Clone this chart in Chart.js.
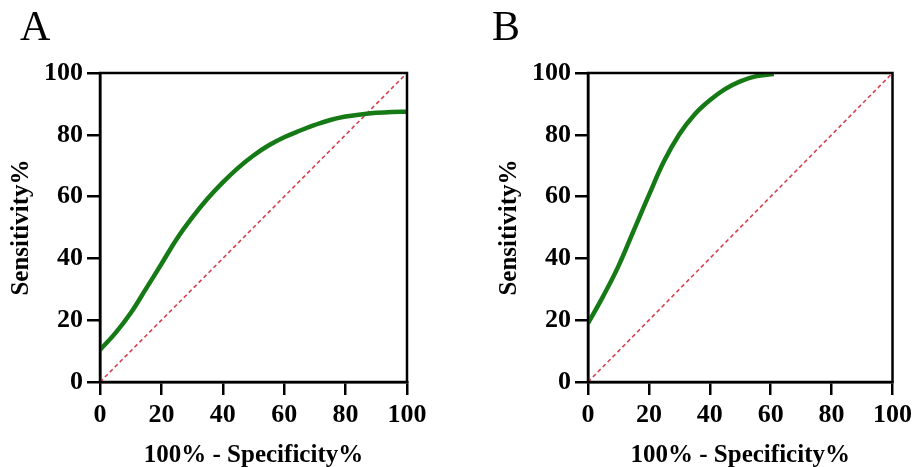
<!DOCTYPE html>
<html lang="en">
<head>
    <meta charset="UTF-8">
    <title>ROC curves</title>
    <script src="https://cdn.jsdelivr.net/npm/chart.js"></script>
    <style>
        body { margin: 0; background: #fff; font-family: "Liberation Serif", "Times New Roman", serif; }
        #wrap { position: relative; width: 917px; height: 467px; overflow: hidden; }
        .panel { position: absolute; top: 0; height: 467px; }
        .tag { position: absolute; top: 2px; font-size: 42px; color: #000; }
    </style>
</head>
<body>
<div id="wrap">
    <div class="panel" style="left:0;width:458px;"><canvas id="chartA"></canvas></div>
    <div class="panel" style="left:458px;width:459px;"><canvas id="chartB"></canvas></div>
    <div class="tag" style="left:20px;">A</div>
    <div class="tag" style="left:492px;">B</div>
</div>

<script>
    // ROC curve A
    const fprA = [0, 5, 10, 15, 20, 25, 30, 35, 40, 45, 50, 55, 60, 65, 70, 75, 80, 85, 90, 95, 100];
    const sensA = [10.4, 15.8, 22.3, 30.2, 38.2, 46.3, 53.2, 59.3, 64.6, 69.3, 73.3, 76.6, 79.2, 81.3, 83.2, 84.8, 85.9, 86.6, 87.1, 87.4, 87.5];
    // ROC curve B
    const fprB = [0, 5, 10, 15, 20, 25, 30, 35, 40, 45, 50, 55, 61];
    const sensB = [19, 27.8, 37.5, 49, 60.5, 71.5, 80.2, 86.6, 91.2, 94.8, 97.3, 98.9, 99.7];
    // reference line
    const refLine = [0, 100];

    const axisTicks = [0, 20, 40, 60, 80, 100];
    const serif = '"Liberation Serif", "Times New Roman", serif';

    const framePlugin = {
        id: 'frame',
        afterDatasetsDraw(chart) {
            const a = chart.chartArea;
            const c = chart.ctx;
            c.save();
            c.strokeStyle = '#000';
            c.lineWidth = 2.5;
            c.strokeRect(a.left, a.top, a.right - a.left, a.bottom - a.top);
            c.restore();
        }
    };

    function makeChart(id, xs, ys, yAxisWidth, yTitlePad, rightPad) {
        const ctx = document.getElementById(id).getContext('2d');
        return new Chart(ctx, {
            type: 'line',
            data: {
                datasets: [{
                    data: xs.map((x, i) => ({ x: x, y: ys[i] })),
                    borderColor: '#157a15',
                    borderWidth: 4.5,
                    pointRadius: 0,
                    tension: 0.4,
                    fill: false
                }, {
                    data: refLine.map(v => ({ x: v, y: v })),
                    borderColor: '#d6404e',
                    borderWidth: 1.6,
                    borderDash: [4, 3],
                    pointRadius: 0,
                    fill: false
                }]
            },
            options: {
                responsive: true,
                maintainAspectRatio: false,
                animation: false,
                layout: { padding: { top: 73, right: rightPad, bottom: 0, left: 0 } },
                plugins: { legend: { display: false }, tooltip: { enabled: false } },
                scales: {
                    x: {
                        type: 'linear',
                        min: 0, max: 100,
                        afterFit(s) { s.height = 85; },
                        afterBuildTicks(s) { s.ticks = axisTicks.map(v => ({ value: v })); },
                        grid: { drawOnChartArea: false, drawTicks: true, tickLength: 13, color: '#000', lineWidth: 2.5 },
                        border: { display: true, color: '#000', width: 2.5 },
                        ticks: { color: '#000', padding: 5, maxRotation: 0, font: { family: serif, size: 26, weight: 'bold' } },
                        title: { display: true, text: '100% - Specificity%', color: '#000', padding: { top: 0, bottom: -4 }, font: { family: serif, size: 25, weight: 'bold' } }
                    },
                    y: {
                        type: 'linear',
                        min: 0, max: 100,
                        afterFit(s) { s.width = yAxisWidth; },
                        afterBuildTicks(s) { s.ticks = axisTicks.map(v => ({ value: v })); },
                        grid: { drawOnChartArea: false, drawTicks: true, tickLength: 13, color: '#000', lineWidth: 2.5 },
                        border: { display: true, color: '#000', width: 2.5 },
                        ticks: { color: '#000', padding: 4, font: { family: serif, size: 26, weight: 'bold' } },
                        title: { display: true, text: 'Sensitivity%', color: '#000', padding: { top: yTitlePad, bottom: 0 }, font: { family: serif, size: 25, weight: 'bold' } }
                    }
                }
            },
            plugins: [framePlugin]
        });
    }

    makeChart('chartA', fprA, sensA, 100, 7, 51);
    makeChart('chartB', fprB, sensB, 130, 37, 22);
</script>
</body>
</html>
